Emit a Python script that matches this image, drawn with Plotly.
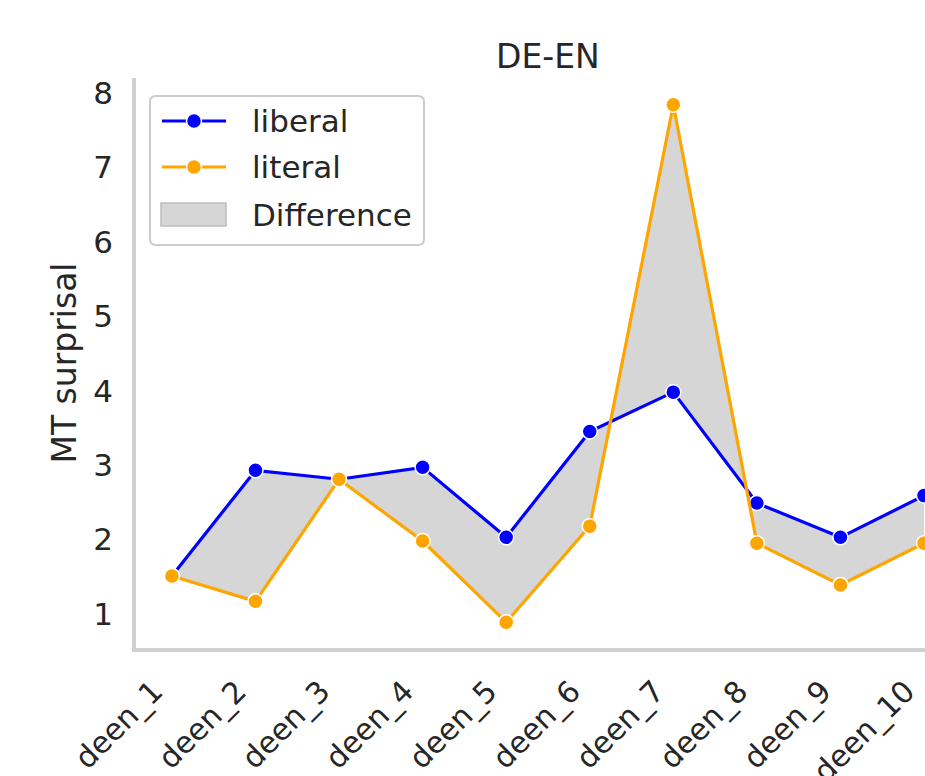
import plotly.graph_objects as go

categories = ["deen_1", "deen_2", "deen_3", "deen_4", "deen_5",
              "deen_6", "deen_7", "deen_8", "deen_9", "deen_10"]
liberal = [1.51, 2.93, 2.81, 2.97, 2.03, 3.45, 3.98, 2.49, 2.03, 2.59]
literal = [1.51, 1.17, 2.81, 1.98, 0.89, 2.18, 7.84, 1.95, 1.39, 1.95]
y_ticks = [1, 2, 3, 4, 5, 6, 7, 8]
legend_labels = ["liberal", "literal", "Difference"]
colors = {"liberal": "#0000ff", "literal": "#ffa500", "Difference": "#d6d6d6"}

xi = list(range(len(categories)))
FONT = "DejaVu Sans"
TXT = "#262626"

W, H = 925, 776
ML, MR, MT, MB = 136, 0, 78, 128
PW, PH = W - ML - MR, H - MT - MB


def px(x):
    return (x - ML) / PW


def py(y):
    return (H - MB - y) / PH


fig = go.Figure()
fig.add_trace(go.Scatter(x=xi, y=literal, mode="lines", line=dict(width=0),
                         showlegend=False, hoverinfo="skip"))
fig.add_trace(go.Scatter(x=xi, y=liberal, mode="lines", line=dict(width=0),
                         fill="tonexty", fillcolor=colors["Difference"],
                         showlegend=False, hoverinfo="skip"))
fig.add_trace(go.Scatter(x=xi, y=liberal, mode="lines+markers", name="liberal",
                         line=dict(color=colors["liberal"], width=3.2),
                         marker=dict(size=15, color=colors["liberal"], line=dict(color="white", width=1.5)),
                         showlegend=False))
fig.add_trace(go.Scatter(x=xi, y=literal, mode="lines+markers", name="literal",
                         line=dict(color=colors["literal"], width=3.2),
                         marker=dict(size=15, color=colors["literal"], line=dict(color="white", width=1.5)),
                         showlegend=False))

# ---- manual legend (matplotlib style) ----
shapes = []
annotations = []
bx0, bx1, by0, by1, r = 150, 424, 96, 245, 6
rx, ry = r / PW, r / PH
X0, X1, Y0, Y1 = px(bx0), px(bx1), py(by1), py(by0)
path = (f"M {X0+rx},{Y0} L {X1-rx},{Y0} Q {X1},{Y0} {X1},{Y0+ry} "
        f"L {X1},{Y1-ry} Q {X1},{Y1} {X1-rx},{Y1} L {X0+rx},{Y1} "
        f"Q {X0},{Y1} {X0},{Y1-ry} L {X0},{Y0+ry} Q {X0},{Y0} {X0+rx},{Y0} Z")
shapes.append(dict(type="path", path=path, xref="paper", yref="paper",
                   fillcolor="rgba(255,255,255,0.8)", line=dict(color="#cccccc", width=2),
                   layer="above"))
rows_y = [121, 167, 215]
for lab, ry_ in zip(legend_labels, rows_y):
    c = colors[lab]
    if lab == "Difference":
        shapes.append(dict(type="rect", xref="paper", yref="paper",
                           x0=px(161), x1=px(226), y0=py(ry_ + 11), y1=py(ry_ - 12),
                           fillcolor=c, line=dict(color="#bdbdbd", width=1.5), layer="above"))
    else:
        shapes.append(dict(type="line", xref="paper", yref="paper",
                           x0=px(162), x1=px(226), y0=py(ry_), y1=py(ry_),
                           line=dict(color=c, width=3.2), layer="above"))
        shapes.append(dict(type="circle", xref="paper", yref="paper",
                           x0=px(194 - 7.5), x1=px(194 + 7.5), y0=py(ry_ + 7.5), y1=py(ry_ - 7.5),
                           fillcolor=c, line=dict(color="white", width=1.5), layer="above"))
    annotations.append(dict(text=lab, xref="paper", yref="paper", x=px(250), y=py(ry_),
                            xanchor="left", yanchor="middle", showarrow=False,
                            font=dict(size=31, color=TXT, family=FONT)))

annotations.append(dict(text="DE-EN", xref="paper", yref="paper", x=px(548), y=py(56),
                        xanchor="center", yanchor="middle", showarrow=False,
                        font=dict(size=33, color=TXT, family=FONT)))

fig.update_layout(
    width=W, height=H,
    margin=dict(l=ML, r=MR, t=MT, b=MB, pad=0, autoexpand=False),
    paper_bgcolor="white", plot_bgcolor="white",
    font=dict(family=FONT, size=31, color=TXT),
    showlegend=False,
    shapes=shapes,
    annotations=annotations,
)
fig.update_xaxes(
    range=[-0.43, 9.012], tickmode="array", tickvals=xi, ticktext=categories,
    tickangle=-45, showgrid=False, zeroline=False, automargin=False,
    showline=True, linecolor="#d0d0d0", linewidth=3.5,
    ticks="outside", ticklen=10, tickcolor="rgba(0,0,0,0)",
    tickfont=dict(size=30, color=TXT),
    ticklabeloverflow="allow", ticklabelshift=-18,
)
fig.update_yaxes(
    range=[0.543, 8.2], tickmode="array", tickvals=y_ticks,
    showgrid=False, zeroline=False, automargin=False,
    showline=True, linecolor="#d0d0d0", linewidth=3.5,
    ticks="outside", ticklen=13, tickcolor="rgba(0,0,0,0)",
    tickfont=dict(size=31, color=TXT),
    title=dict(text="MT surprisal", font=dict(size=33, color=TXT), standoff=8),
)

fig.write_html("out.html", config={"displayModeBar": False},
               post_script="document.body.style.margin='0';")
